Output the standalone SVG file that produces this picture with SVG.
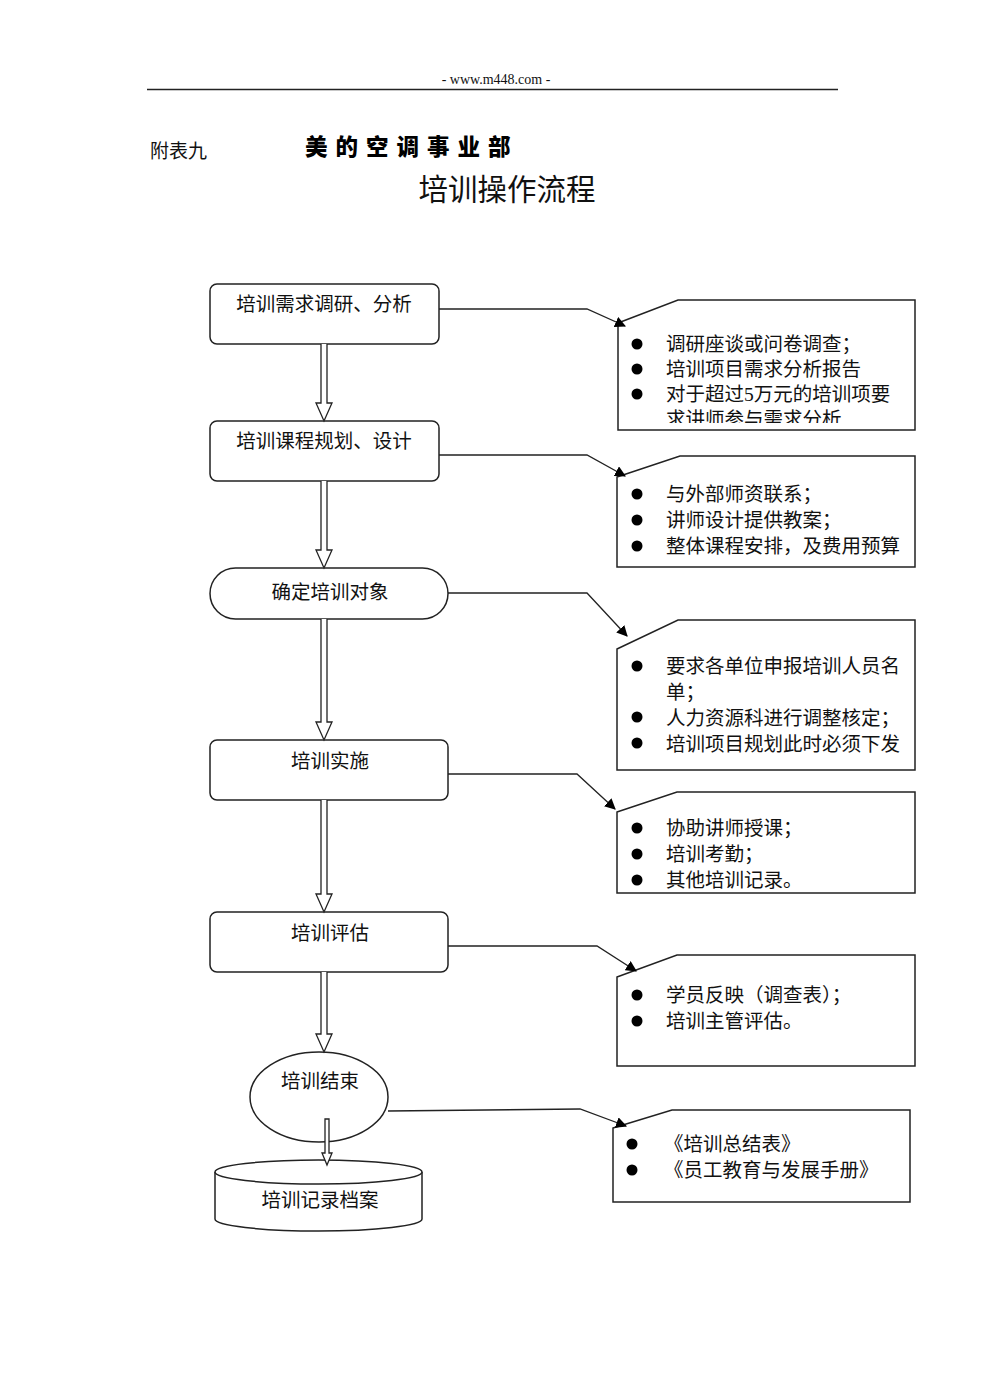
<svg xmlns="http://www.w3.org/2000/svg" width="985" height="1393" viewBox="0 0 985 1393">
<style>
.bg{fill:#fff}
.node{fill:#fff;stroke:#222;stroke-width:1.5}
.nt{font-family:"Liberation Sans","Noto Sans CJK SC",sans-serif;font-size:19.5px;fill:#111;text-anchor:middle}
.ct{font-family:"Liberation Serif","Noto Sans CJK SC",serif;font-size:19.5px;fill:#111}
.conn{fill:none;stroke:#222;stroke-width:1.3}
.flow{fill:#fff;stroke:#222;stroke-width:1.3}
.dot{fill:#000}
</style>
<defs>
<marker id="ah" viewBox="0 0 10 10" refX="9" refY="5" markerWidth="11" markerHeight="11" markerUnits="userSpaceOnUse" orient="auto">
<path d="M0,0 L10,5 L0,10 z" fill="#000"/>
</marker>
<clipPath id="clipA"><rect x="618" y="300" width="297" height="123"/></clipPath>
</defs>
<rect class="bg" x="0" y="0" width="985" height="1393"/>

<g id="header">
<text x="496" y="84" font-family="Liberation Serif,serif" font-size="14" text-anchor="middle" fill="#111">- www.m448.com -</text>
<line x1="147" y1="89.5" x2="838" y2="89.5" stroke="#222" stroke-width="1.5"/>
<text x="150" y="158" font-family="Liberation Serif,'Noto Sans CJK SC',serif" font-size="19" fill="#111">附表九</text>
<text x="305" y="155" font-family="'Noto Sans CJK SC',sans-serif" font-size="22.5" font-weight="900" letter-spacing="8" fill="#000">美的空调事业部</text>
<text x="507" y="200" font-family="'Liberation Serif','Noto Sans CJK SC',serif" font-size="29.5" text-anchor="middle" fill="#111">培训操作流程</text>
</g>

<g id="n1">
<rect class="node" x="210" y="284" width="229" height="60" rx="7"/>
<text class="nt" x="324" y="311">培训需求调研、分析</text>
</g>
<g id="n2">
<rect class="node" x="210" y="421" width="229" height="60" rx="7"/>
<text class="nt" x="324" y="448">培训课程规划、设计</text>
</g>
<g id="n3">
<rect class="node" x="210" y="568" width="238" height="51" rx="25.5"/>
<text class="nt" x="330" y="599">确定培训对象</text>
</g>
<g id="n4">
<rect class="node" x="210" y="740" width="238" height="60" rx="7"/>
<text class="nt" x="330" y="768">培训实施</text>
</g>
<g id="n5">
<rect class="node" x="210" y="912" width="238" height="60" rx="7"/>
<text class="nt" x="330" y="940">培训评估</text>
</g>
<g id="n6">
<ellipse class="node" cx="319" cy="1097" rx="69" ry="45"/>
<text class="nt" x="320" y="1088">培训结束</text>
</g>
<g id="n7">
<path class="node" d="M215,1172 L215,1219 A103.5,12 0 0 0 422,1219 L422,1172 A103.5,12 0 0 0 215,1172 Z"/>
<path class="node" d="M215,1172 A103.5,12 0 0 0 422,1172"/>
<text class="nt" x="320" y="1207">培训记录档案</text>
</g>

<g id="cA">
<path class="node" d="M618,323 L678,300 L915,300 L915,430 L618,430 Z"/>
<circle class="dot" cx="637" cy="344" r="5.5"/>
<circle class="dot" cx="637" cy="369" r="5.5"/>
<circle class="dot" cx="637" cy="394" r="5.5"/>
<g clip-path="url(#clipA)">
<text class="ct" x="666" y="351">调研座谈或问卷调查；</text>
<text class="ct" x="666" y="376">培训项目需求分析报告</text>
<text class="ct" x="666" y="401">对于超过5万元的培训项要</text>
<text class="ct" x="666" y="426">求讲师参与需求分析</text>
</g>
</g>
<g id="cB">
<path class="node" d="M617,477 L680,456 L915,456 L915,567 L617,567 Z"/>
<circle class="dot" cx="637" cy="494" r="5.5"/>
<circle class="dot" cx="637" cy="520" r="5.5"/>
<circle class="dot" cx="637" cy="546" r="5.5"/>
<text class="ct" x="666" y="501">与外部师资联系；</text>
<text class="ct" x="666" y="527">讲师设计提供教案；</text>
<text class="ct" x="666" y="553">整体课程安排，及费用预算</text>
</g>
<g id="cC">
<path class="node" d="M617,649 L678,620 L915,620 L915,770 L617,770 Z"/>
<circle class="dot" cx="637" cy="666" r="5.5"/>
<circle class="dot" cx="637" cy="717" r="5.5"/>
<circle class="dot" cx="637" cy="743" r="5.5"/>
<text class="ct" x="666" y="673">要求各单位申报培训人员名</text>
<text class="ct" x="666" y="699">单；</text>
<text class="ct" x="666" y="725">人力资源科进行调整核定；</text>
<text class="ct" x="666" y="751">培训项目规划此时必须下发</text>
</g>
<g id="cD">
<path class="node" d="M617,812 L677,792 L915,792 L915,893 L617,893 Z"/>
<circle class="dot" cx="637" cy="828" r="5.5"/>
<circle class="dot" cx="637" cy="854" r="5.5"/>
<circle class="dot" cx="637" cy="880" r="5.5"/>
<text class="ct" x="666" y="835">协助讲师授课；</text>
<text class="ct" x="666" y="861">培训考勤；</text>
<text class="ct" x="666" y="887">其他培训记录。</text>
</g>
<g id="cE">
<path class="node" d="M617,977 L677,955 L915,955 L915,1066 L617,1066 Z"/>
<circle class="dot" cx="637" cy="995" r="5.5"/>
<circle class="dot" cx="637" cy="1021" r="5.5"/>
<text class="ct" x="666" y="1002">学员反映（调查表）；</text>
<text class="ct" x="666" y="1028">培训主管评估。</text>
</g>
<g id="cF">
<path class="node" d="M613,1128 L672,1110 L910,1110 L910,1202 L613,1202 Z"/>
<circle class="dot" cx="632" cy="1144" r="5.5"/>
<circle class="dot" cx="632" cy="1170" r="5.5"/>
<text class="ct" x="664" y="1151">《培训总结表》</text>
<text class="ct" x="664" y="1177">《员工教育与发展手册》</text>
</g>

<g id="connectors">
<path class="flow" d="M321,344 L321,403 L316,403 L324,421 L332,403 L327,403 L327,344"/>
<path class="flow" d="M321,481 L321,550 L316,550 L324,568 L332,550 L327,550 L327,481"/>
<path class="flow" d="M321,619 L321,722 L316,722 L324,740 L332,722 L327,722 L327,619"/>
<path class="flow" d="M321,800 L321,894 L316,894 L324,912 L332,894 L327,894 L327,800"/>
<path class="flow" d="M321,972 L321,1034 L316,1034 L324,1052 L332,1034 L327,1034 L327,972"/>
<path class="flow" d="M325,1119 L325,1153 L322,1153 L327,1165 L332,1153 L329,1153 L329,1119 Z"/>
<polyline class="conn" points="439,309 587,309 625,326" marker-end="url(#ah)"/>
<polyline class="conn" points="439,455 587,455 625,476" marker-end="url(#ah)"/>
<polyline class="conn" points="448,593 587,593 627,636" marker-end="url(#ah)"/>
<polyline class="conn" points="448,774 577,774 615,809" marker-end="url(#ah)"/>
<polyline class="conn" points="448,946 597,946 636,971" marker-end="url(#ah)"/>
<polyline class="conn" points="388,1111 580,1109 626,1126" marker-end="url(#ah)"/>
</g>
</svg>
